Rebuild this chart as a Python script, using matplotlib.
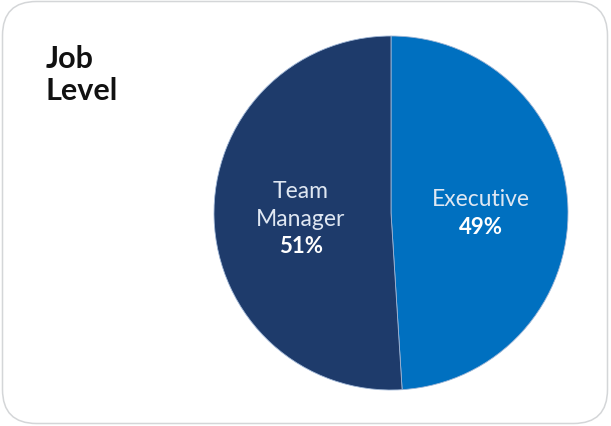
import matplotlib
matplotlib.use("Agg")
import matplotlib.pyplot as plt
from matplotlib.patches import FancyBboxPatch
import numpy as np

plt.rcParams["font.family"] = ["Lato", "DejaVu Sans"]

levels = ["Executive", "Team Manager"]
label_lines = [["Executive"], ["Team", "Manager"]]
shares = [49, 51]
colors = ["#0070c0", "#1e3b6b"]

W, H = 611, 426
fig = plt.figure(figsize=(W / 100, H / 100), dpi=100)

# card background with rounded border, in pixel units
bg = fig.add_axes([0, 0, 1, 1])
bg.set_xlim(0, W)
bg.set_ylim(H, 0)
bg.axis("off")
card = FancyBboxPatch((2.5, 1.5), 605, 422, boxstyle="round,pad=0,rounding_size=34",
                      facecolor="white", edgecolor="#d4d6d8", linewidth=1.1)
bg.add_patch(card)
for txt, base in [("Job", 68), ("Level", 100)]:
    bg.text(46, base, txt, fontsize=22, fontweight="bold", color="#111111",
            va="baseline")

# pie centred at (391, 213) px with radius 177 px
cx, cy, r = 391, 213, 177
ax = fig.add_axes([(cx - r) / W, (H - cy - r) / H, 2 * r / W, 2 * r / H])
wedges, _ = ax.pie(shares, colors=colors, startangle=90, counterclock=False,
                   wedgeprops=dict(edgecolor="#9fb6d6", linewidth=0.6))
ax.set_xlim(-1, 1)
ax.set_ylim(-1, 1)
ax.set_aspect("auto")

for w, lines, pct in zip(wedges, label_lines, shares):
    mid = np.deg2rad((w.theta1 + w.theta2) / 2)
    d = 0.51
    x, y = d * np.cos(mid), d * np.sin(mid) - 0.018
    n = len(lines) + 1
    step = 0.158
    top = y + step * (n - 1) / 2
    for i, line in enumerate(lines):
        ax.text(x, top - i * step, line, ha="center", va="center", fontsize=16.5,
                fontweight="normal", color="#dfe7f2")
    ax.text(x, top - len(lines) * step, f"{pct}%", ha="center", va="center",
            fontsize=16, fontweight="bold", color="white")

fig.savefig("out.png", dpi=100)
